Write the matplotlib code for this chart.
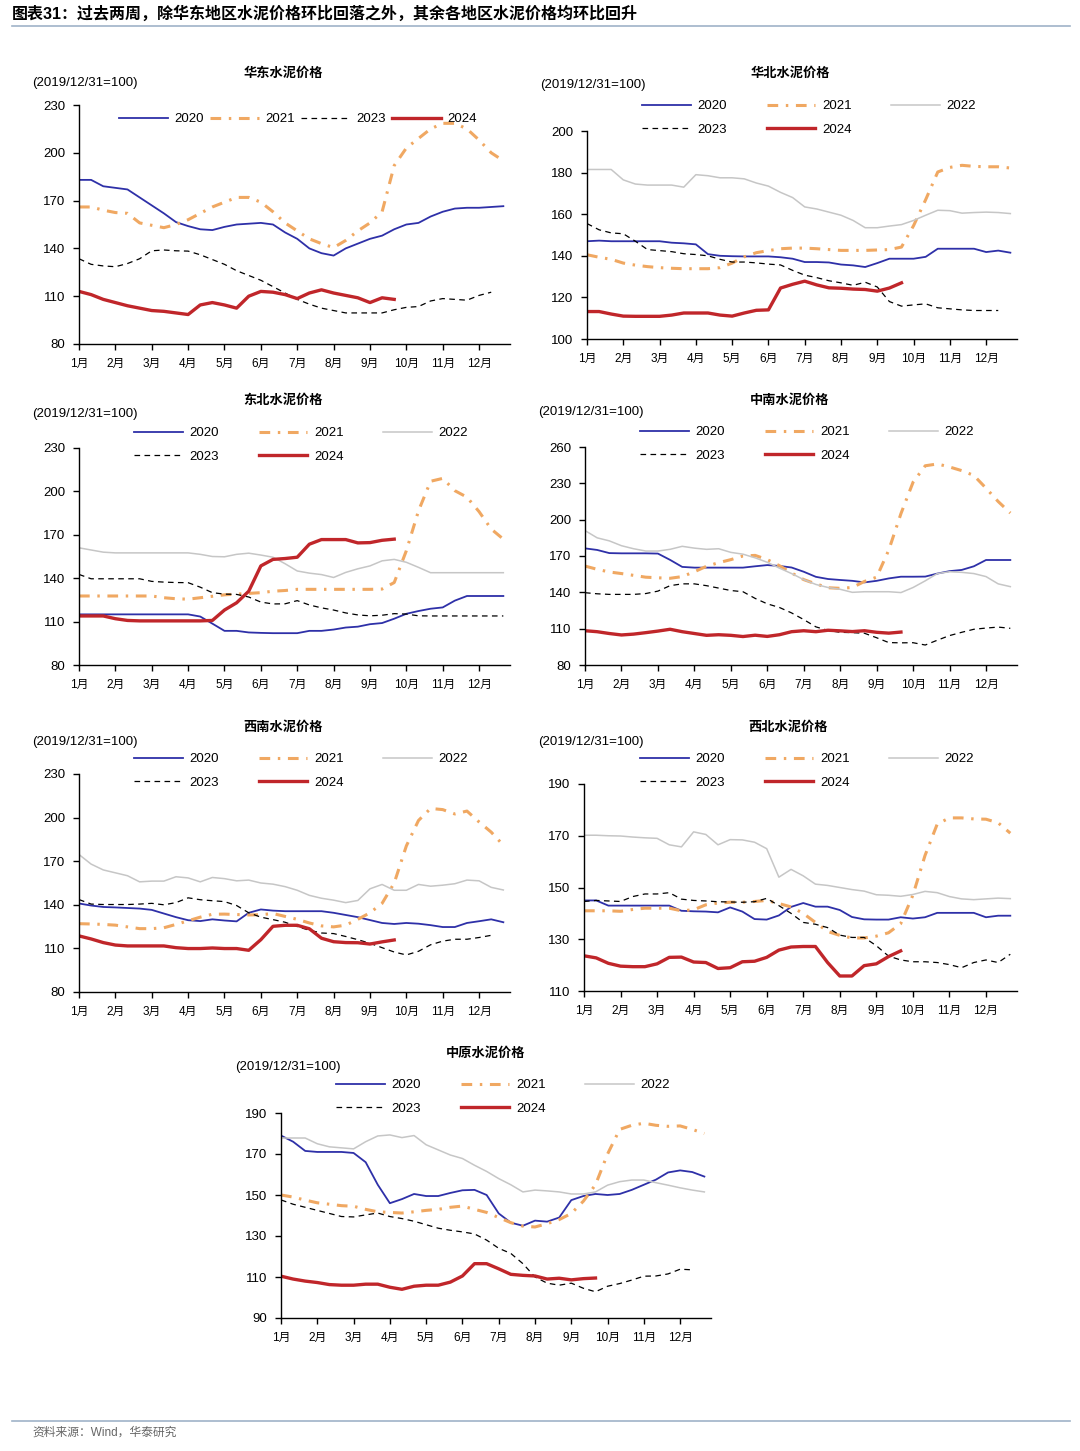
import numpy as np
import matplotlib.pyplot as plt
from matplotlib.lines import Line2D

plt.rcParams['font.family'] = ['Liberation Sans', 'Noto Sans CJK SC']
plt.rcParams['axes.unicode_minus'] = False

W, H = 1080, 1451

months = [f'{i}月' for i in range(1, 13)]

# 数据：每月3个点（约每10天一个），2019/12/31=100
# 华东
hd_2020 = [183, 183, 179, 178, 177, 172, 167, 162, 156.5, 154, 152, 151.5,
           153.5, 155, 155.5, 156, 155, 150, 146, 140, 137, 135.5, 140, 143,
           146, 148, 152, 155, 156, 160, 163, 165, 165.5, 165.5, 166, 166.5]
hd_2021 = [166, 166, 164, 162.5, 162, 156, 154.5, 153, 155, 158, 162, 166,
           169, 172, 172, 169, 163, 156, 151, 146, 143, 140.5, 145, 151,
           156, 163, 192, 203, 209, 215, 218.5, 218.5, 215, 208, 200, 195]
hd_2023 = [133.5, 130, 129, 128.5, 130.5, 133.5, 138.5, 139, 138.5, 138.3, 136, 133,
           130, 126, 123, 120, 116, 112, 108, 105, 102.5, 101, 99.5, 99.5,
           99.5, 99.5, 101.5, 103, 103.5, 107, 108.5, 108, 107.5, 110.5, 112.5]
hd_2024 = [113, 111, 108, 106, 104, 102.5, 101, 100.5, 99.5, 98.5, 104.5, 106,
           104.5, 102.5, 110, 113, 112.5, 111, 108.5, 112, 114, 112, 110.5, 109,
           106, 109, 108]

# 华北
hb_2020 = [147, 147.3, 147, 147, 147, 147, 147, 146.3, 146, 145.5, 140.8, 140,
           139.8, 139.7, 139.7, 139.7, 139.3, 138.6, 137, 137, 136.8, 135.8, 135.4, 134.6,
           136.5, 138.6, 138.6, 138.6, 139.5, 143.4, 143.4, 143.4, 143.4, 141.8, 142.5, 141.5]
hb_2021 = [140.5, 139.3, 138.3, 136.5, 135.5, 134.8, 134.3, 134, 133.8, 133.8, 133.8, 134.3,
           136.5, 139.5, 141.5, 142.5, 143.4, 143.7, 143.7, 143.4, 143, 142.6, 142.6, 142.6,
           142.8, 143, 144.2, 154.5, 167, 180.3, 182.5, 183.5, 183, 182.8, 182.8, 182.2]
hb_2022 = [181.5, 181.5, 181.5, 176.5, 174.5, 174, 174, 174, 173, 179, 178.5, 177.5,
           177.5, 177, 175, 173.5, 170.5, 168, 163.5, 162.5, 161, 159.5, 157, 153.5,
           153.5, 154.3, 155, 157, 159.5, 161.9, 161.7, 160.5, 160.8, 161, 160.8, 160.3]
hb_2023 = [155.5, 152.5, 151, 150.6, 147, 143, 142.5, 142, 141, 140.6, 140, 138.3,
           137, 137, 136.6, 136, 135.6, 133, 130.7, 129.5, 128, 127, 125.8, 127.3,
           125, 118, 115.8, 116.4, 116.9, 115, 114.5, 114, 113.7, 113.7, 113.7]
hb_2024 = [113.2, 113.2, 112, 111, 110.9, 110.9, 110.9, 111.5, 112.5, 112.5, 112.5, 111.5,
           111, 112.5, 113.8, 114, 124.5, 126.3, 127.8, 126, 124.6, 124.4, 124, 123.8,
           123, 124.5, 127]

# 东北
db_2020 = [115, 115, 115, 115, 115, 115, 115, 115, 115, 115, 113.5, 108.6,
           103.6, 103.6, 102.5, 102.2, 102, 102, 102, 103.6, 103.6, 104.5, 105.9, 106.5,
           108.2, 109, 112, 115.4, 117.3, 118.9, 119.8, 124.5, 127.7, 127.7, 127.7, 127.7]
db_2021 = [127.7, 127.7, 127.7, 127.7, 127.7, 127.7, 127.7, 126.5, 125.8, 125.5, 126.5, 127.5,
           128.5, 129, 129.5, 130, 131, 131.5, 132.3, 132.3, 132.3, 132.3, 132.3, 132.3,
           132.3, 132.5, 137, 159, 186.5, 207, 209, 200.5, 196, 186, 174, 167]
db_2022 = [161, 159.5, 158, 157.5, 157.5, 157.5, 157.5, 157.5, 157.5, 157.5, 156.5, 155,
           154.8, 156.5, 157.3, 156, 154.5, 150, 145, 143.5, 142.5, 140.5, 144, 146.5,
           148.5, 152, 153, 151, 147.5, 143.8, 143.8, 143.8, 143.8, 143.8, 143.8, 143.8]
db_2023 = [142.6, 139.6, 139.6, 139.6, 139.6, 139.6, 137.8, 137.3, 137, 136.9, 133.8, 130,
           129, 128.8, 127, 123.5, 122.2, 122.3, 124.5, 121.5, 119.5, 118, 116, 114.6,
           114, 114.4, 115.5, 115.2, 114, 113.9, 113.9, 113.9, 113.9, 113.9, 113.9, 113.9]
db_2024 = [113.9, 113.9, 113.9, 112, 110.8, 110.5, 110.5, 110.5, 110.5, 110.5, 110.5, 110.8,
           118, 123, 131, 148.5, 153, 153.6, 154.5, 163.5, 166.7, 166.7, 166.7, 164.4,
           164.6, 166.2, 167]

# 中南
zn_2020 = [176.3, 175, 172.4, 172.2, 172.2, 172.2, 172, 166.8, 161, 160.4, 160.4, 160.4,
           160.4, 160.4, 161.5, 162.5, 161.8, 160.5, 157, 152.8, 151, 150.2, 149.5, 148.2,
           149.5, 151.5, 152.9, 152.9, 153, 155.5, 157.5, 158.5, 161.5, 166.7, 166.7, 166.7]
zn_2021 = [161.7, 159, 156.8, 155.5, 154, 152.5, 152, 151.6, 153, 157, 161.5, 164.5,
           167, 170, 170.5, 167, 162, 156, 150.5, 147, 143.8, 143.3, 144, 149,
           152.5, 175, 205, 231, 244.5, 246, 243.5, 240.5, 236.5, 226, 215, 205.5]
zn_2022 = [191, 185, 182.5, 178.5, 176, 174.1, 174.1, 175.5, 178, 176.5, 175.5, 176,
           173, 171.5, 168.5, 164.8, 160, 155.5, 150.5, 146.5, 144, 142.5, 140, 140.5,
           140.5, 140.5, 139.8, 144, 149.5, 155.5, 157, 156.5, 155.5, 153, 147, 144.7]
zn_2023 = [139.7, 138.8, 138.3, 138.3, 138.3, 139, 141, 145.5, 147, 147, 145.5, 143.5,
           141.5, 140.5, 135, 130.5, 127.5, 123, 117.5, 111.5, 108.5, 107, 106.7, 106.2,
           102.5, 98.5, 98.3, 98.4, 96.5, 100.5, 104.3, 107, 109.5, 110.5, 111.3, 110.3]
zn_2024 = [108.3, 107.5, 106, 104.8, 105.5, 106.7, 108, 109.5, 107.5, 106, 104.5, 105,
           104.5, 103.5, 104.6, 103.6, 105, 107.5, 108.3, 107.5, 108.7, 108.2, 107.6, 108.3,
           107, 106.3, 107.2]

# 西南
xn_2020 = [140.9, 139.5, 138.5, 138.2, 137.8, 137.4, 136.5, 134, 131.5, 129.4, 128.8, 130,
           129.2, 128.6, 134.5, 136.8, 136, 135.6, 135.6, 135.6, 135.6, 134.5, 133, 131.5,
           129.5, 127.5, 126.8, 127.5, 127, 126, 124.7, 124.7, 127.5, 128.7, 130, 128]
xn_2021 = [127, 126.8, 126.5, 126, 124.8, 123.6, 123.6, 124.2, 126.5, 129, 131.5, 133.5,
           133.6, 133.3, 133, 133.2, 134, 132, 130, 127.5, 125.5, 124.8, 126, 130,
           134.5, 141, 155, 180.5, 198, 206.3, 205.5, 202.5, 204.5, 197, 190, 181]
xn_2022 = [174.6, 168, 164, 162, 160, 155.8, 156.3, 156.3, 159.3, 158.5, 155.8, 158.8,
           158, 156.5, 157, 155, 154.2, 152.5, 150, 146.5, 144.5, 143.2, 141.5, 143,
           151, 154, 150, 150, 154, 152.8, 153.5, 154.5, 157, 156.5, 152, 150.2]
xn_2023 = [143.6, 140.5, 140.2, 140.2, 140.2, 140.5, 141, 140, 141.5, 144.8, 143.5, 142.8,
           142.2, 139.5, 134.5, 131.5, 129.8, 128, 125, 122.5, 120.6, 120.2, 118.2, 116,
           113.5, 110.5, 107.5, 105.5, 108, 112.5, 115, 116.3, 116.3, 117.5, 119]
xn_2024 = [118.6, 116.5, 114, 112.3, 111.7, 111.7, 111.7, 111.7, 110.5, 109.9, 109.9, 110.3,
           109.9, 109.9, 108.7, 116, 125.2, 125.9, 125.9, 123.5, 117, 114.6, 114, 113.9,
           113, 114.5, 115.8]

# 西北
xb_2020 = [145, 145, 143, 143, 143, 143, 143, 143, 141, 140.8, 140.7, 140.4,
           142.3, 140.7, 137.8, 137.6, 139.2, 142.5, 144, 142.6, 142.6, 141.3, 138.6, 137.7,
           137.6, 137.6, 138.5, 138, 138.5, 140.2, 140.2, 140.2, 140.2, 138.5, 139.1, 139.1]
xb_2021 = [141, 141, 141, 140.8, 141.5, 142, 142, 142, 141, 141.4, 143.3, 144,
           144.3, 144.3, 144.6, 145, 143.8, 142.5, 140, 136.5, 133, 131.5, 130.5, 130.5,
           131.2, 132.5, 136, 147, 162.4, 174.5, 176.9, 176.9, 176.5, 176.4, 175, 171]
xb_2022 = [170.2, 170.2, 170, 169.9, 169.5, 169.2, 169, 166.5, 165.7, 171.5, 170.5, 166.5,
           168.5, 168.4, 167.5, 165, 154, 157, 154.5, 151.3, 150.8, 150, 149.2, 148.6,
           147.2, 147, 146.6, 147.3, 148.5, 148, 146.5, 145.6, 145.3, 145.6, 145.9, 145.7]
xb_2023 = [144.6, 145, 144.8, 144.6, 146.5, 147.5, 147.5, 148, 145.5, 145, 144.8, 144.5,
           144.4, 144.3, 144.5, 145.8, 143, 140, 136.5, 135.8, 134.5, 131.6, 130.7, 130.7,
           127.5, 123.5, 122, 121.3, 121.3, 121, 120.2, 119, 121, 122, 121, 124.2]
xb_2024 = [123.6, 122.8, 120.7, 119.6, 119.4, 119.4, 120.5, 123, 123.1, 121.2, 121, 118.7,
           119, 121.3, 121.5, 123, 125.8, 127, 127.2, 127.2, 121, 115.8, 115.8, 119.8,
           120.5, 123.3, 125.5]

# 中原
zy_2020 = [179, 176, 171.5, 171, 171, 171, 170.5, 166, 155, 146, 148, 150.5,
           149.5, 149.5, 151, 152.3, 152.5, 150, 141, 136.5, 135, 137.5, 137, 139,
           147.5, 149.5, 150.5, 150, 150.5, 152.5, 155, 157.5, 161, 162, 161.2, 159]
zy_2021 = [150, 149, 147.5, 146.2, 145.5, 144.8, 144.5, 143, 141.8, 141.5, 141.2, 141.8,
           142.5, 143, 144, 144.6, 143, 141.5, 139, 136.5, 134.8, 134.4, 136, 138,
           141, 147, 155, 170, 182, 184, 185, 184, 183.5, 183.7, 182, 180]
zy_2022 = [177.8, 177.8, 177.8, 175, 173.5, 173, 172.5, 176, 178.8, 179.3, 178, 179,
           174.5, 172, 169.5, 167.8, 164.5, 161.5, 158, 155, 151.5, 152.4, 152, 151.5,
           150.5, 150.5, 151.5, 154.8, 156.5, 157.3, 157.3, 156, 154.8, 153.5, 152.4, 151.5]
zy_2023 = [147.6, 145.5, 144, 142.5, 141, 139.5, 139.3, 140.3, 141.2, 139.5, 138.5, 137.2,
           135.5, 133.8, 132.8, 132, 131, 128, 124, 121.5, 116.5, 110, 107, 106,
           107, 104.5, 102.8, 105.5, 106.8, 108.5, 110.4, 110.5, 111.5, 113.8, 113.5]
zy_2024 = [110.4, 109, 108, 107.3, 106.3, 106, 106, 106.5, 106.5, 105, 104, 105.5,
           106, 106, 107.5, 110.5, 116.5, 116.5, 114, 111.3, 110.8, 110.5, 109, 109.4,
           108.6, 109.2, 109.5]

styles = {
    '2020': dict(color='#2E30A8', lw=1.3),
    '2021': dict(color='#F0A862', lw=2.2, dashes=(3.5, 2.5, 0.8, 2.5)),
    '2022': dict(color='#C6C6C6', lw=1.1),
    '2023': dict(color='black', lw=0.9, dashes=(4.5, 3.5)),
    '2024': dict(color='#C0262A', lw=2.4),
}

panels = [
    dict(title='华东水泥价格', data={'2020': hd_2020, '2021': hd_2021, '2023': hd_2023, '2024': hd_2024},
         box=(79, 105, 510, 344), ylim=(80, 230), step=30,
         title_xy=(283, 73), note_xy=(32, 83), leg_xy=(119, 117), ncol=4),
    dict(title='华北水泥价格', data={'2020': hb_2020, '2021': hb_2021, '2022': hb_2022, '2023': hb_2023, '2024': hb_2024},
         box=(587, 131, 1017, 339), ylim=(100, 200), step=20,
         title_xy=(790, 73), note_xy=(540, 85), leg_xy=(642, 104), ncol=3),
    dict(title='东北水泥价格', data={'2020': db_2020, '2021': db_2021, '2022': db_2022, '2023': db_2023, '2024': db_2024},
         box=(79, 448, 510, 665), ylim=(80, 230), step=30,
         title_xy=(283, 400), note_xy=(32, 414), leg_xy=(134, 431), ncol=3),
    dict(title='中南水泥价格', data={'2020': zn_2020, '2021': zn_2021, '2022': zn_2022, '2023': zn_2023, '2024': zn_2024},
         box=(585, 447, 1017, 665), ylim=(80, 260), step=30,
         title_xy=(790, 400), note_xy=(538, 412), leg_xy=(640, 430), ncol=3),
    dict(title='西南水泥价格', data={'2020': xn_2020, '2021': xn_2021, '2022': xn_2022, '2023': xn_2023, '2024': xn_2024},
         box=(79, 774, 510, 992), ylim=(80, 230), step=30,
         title_xy=(283, 727), note_xy=(32, 742), leg_xy=(134, 757), ncol=3),
    dict(title='西北水泥价格', data={'2020': xb_2020, '2021': xb_2021, '2022': xb_2022, '2023': xb_2023, '2024': xb_2024},
         box=(584, 784, 1017, 991), ylim=(110, 190), step=20,
         title_xy=(788, 727), note_xy=(538, 742), leg_xy=(640, 757), ncol=3),
    dict(title='中原水泥价格', data={'2020': zy_2020, '2021': zy_2021, '2022': zy_2022, '2023': zy_2023, '2024': zy_2024},
         box=(281, 1113, 711, 1318), ylim=(90, 190), step=20,
         title_xy=(486, 1053), note_xy=(235, 1067), leg_xy=(336, 1083), ncol=3),
]

fig = plt.figure(figsize=(W / 100, H / 100), dpi=100)

for p in panels:
    l, t, r, b = p['box']
    ax = fig.add_axes([l / W, 1 - b / H, (r - l) / W, (b - t) / H])
    lines = {}
    for yr, vals in p['data'].items():
        x = np.arange(len(vals)) / 3
        lines[yr], = ax.plot(x, vals, **styles[yr])

    ax.set_xlim(0, 11.85)
    ax.set_ylim(*p['ylim'])
    ax.set_yticks(np.arange(p['ylim'][0], p['ylim'][1] + 1, p['step']))
    ax.set_xticks(range(12))
    ax.set_xticklabels(months)
    ax.spines[['top', 'right']].set_visible(False)
    for s in ['left', 'bottom']:
        ax.spines[s].set_linewidth(1.0)
    ax.tick_params(axis='y', direction='out', length=4, width=1, pad=6, labelsize=9.5)
    ax.tick_params(axis='x', direction='out', length=4, width=1, pad=6, labelsize=8.5)

    if p['ncol'] == 4:
        order = ['2020', '2021', '2023', '2024']
        cs = 0.45
    else:
        order = ['2020', '2023', '2021', '2024', '2022']
        cs = 3.0
    lx, ly = p['leg_xy']
    ax.legend([lines[k] for k in order], order, loc='upper left',
              bbox_to_anchor=(lx / W, 1 - (ly - 4) / H), bbox_transform=fig.transFigure,
              ncol=p['ncol'], frameon=False, borderpad=0, borderaxespad=0,
              handlelength=3.7, handletextpad=0.5, columnspacing=cs,
              labelspacing=0.85, fontsize=9.5)

    tx, ty = p['title_xy']
    fig.text(tx / W, 1 - ty / H, p['title'], ha='center', va='center',
             fontsize=9.5, fontweight='bold')
    nx, ny = p['note_xy']
    fig.text(nx / W, 1 - ny / H, '(2019/12/31=100)', ha='left', va='center', fontsize=9.5)

fig.text(12 / W, 1 - 14 / H, '图表31：过去两周，除华东地区水泥价格环比回落之外，其余各地区水泥价格均环比回升',
         ha='left', va='center', fontsize=11.5, fontweight='bold')
fig.add_artist(Line2D([12 / W, 1070 / W], [1 - 26 / H] * 2, color='#9FB3C8', lw=1.2))
fig.add_artist(Line2D([12 / W, 1070 / W], [1 - 1421 / H] * 2, color='#9FB3C8', lw=1.2))
fig.text(32 / W, 1 - 1433 / H, '资料来源：Wind，华泰研究', ha='left', va='center',
         fontsize=8.5, color='#666666')

fig.savefig('out.png', dpi=100)
